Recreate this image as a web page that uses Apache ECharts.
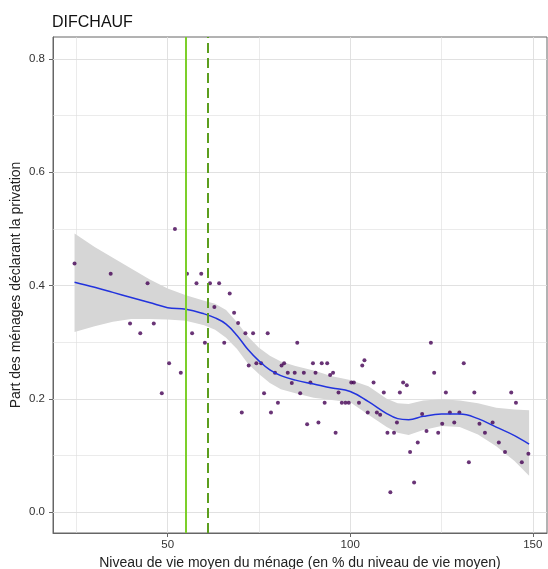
<!DOCTYPE html>
<html>
<head>
<meta charset="utf-8">
<script src="https://cdn.jsdelivr.net/npm/echarts@6/dist/echarts.min.js"></script>
<style>
  html, body { margin: 0; padding: 0; background: #fff; }
  #chart { width: 548px; height: 569px; }
</style>
</head>
<body>
<div id="chart"></div>
<script>
// points (niveau de vie, part declarant la privation)
const ptX = [24.5, 34.4, 44.5, 52.0, 55.3, 57.9, 39.7, 46.2, 42.5, 56.7, 50.4, 53.6, 48.4,
  59.2, 61.6, 64.1, 67.0, 62.8, 68.2, 69.3, 71.3, 73.4, 77.4, 60.2, 65.5, 85.5, 72.2, 74.3,
  75.6, 81.2, 81.9, 82.9, 84.8, 87.3, 79.4, 84.0, 86.3, 76.4, 80.2, 70.3, 78.3,
  89.8, 92.2, 93.7, 90.5, 94.5, 95.3, 89.1, 93.0, 96.8, 97.7, 98.7, 99.6, 100.3, 101.0,
  102.4, 103.3, 103.9, 106.4, 104.8, 107.3, 108.2, 109.2, 112.8, 113.6, 114.5, 115.5,
  88.2, 91.3, 96.0, 110.2, 112.0, 118.5, 116.4, 117.5, 111.0,
  122.1, 131.1, 123.0, 126.2, 134.0, 144.1, 145.4, 119.7, 127.3, 129.9, 120.9, 125.2,
  124.1, 128.5, 135.4, 136.9, 139.0, 140.7, 142.4, 132.5, 147.0, 148.8]
const ptY = [0.439, 0.421, 0.404, 0.500, 0.421, 0.404, 0.333, 0.333, 0.316, 0.316, 0.263, 0.246, 0.210,
  0.421, 0.404, 0.404, 0.386, 0.362, 0.352, 0.334, 0.316, 0.316, 0.316, 0.299, 0.299, 0.299, 0.259, 0.263,
  0.263, 0.259, 0.263, 0.246, 0.246, 0.246, 0.246, 0.228, 0.210, 0.210, 0.193, 0.176, 0.176,
  0.263, 0.263, 0.263, 0.246, 0.242, 0.246, 0.229, 0.193, 0.211, 0.193, 0.193, 0.193, 0.229, 0.229,
  0.193, 0.259, 0.268, 0.229, 0.176, 0.176, 0.172, 0.211, 0.158, 0.211, 0.229, 0.224,
  0.155, 0.158, 0.140, 0.140, 0.140, 0.123, 0.106, 0.052, 0.035,
  0.299, 0.263, 0.246, 0.211, 0.211, 0.211, 0.193, 0.173, 0.176, 0.176, 0.143, 0.156,
  0.140, 0.158, 0.156, 0.140, 0.158, 0.123, 0.106, 0.088, 0.088, 0.103]

// lissage + intervalle de confiance
const smX  = [24.5, 30, 35, 40, 45, 50, 55, 60, 63, 66, 69, 72, 75, 78, 81, 85, 90, 95, 100, 105, 110, 113, 116, 120, 125, 130, 135, 140, 145, 149]
const smY  = [0.406, 0.397, 0.388, 0.379, 0.370, 0.361, 0.358, 0.350, 0.343, 0.332, 0.312, 0.287, 0.267, 0.251, 0.241, 0.233, 0.226, 0.219, 0.213, 0.195, 0.174, 0.165, 0.163, 0.169, 0.173, 0.173, 0.165, 0.150, 0.135, 0.120]
const smHi = [0.492, 0.468, 0.449, 0.430, 0.411, 0.395, 0.383, 0.373, 0.368, 0.357, 0.335, 0.310, 0.290, 0.276, 0.266, 0.258, 0.250, 0.240, 0.233, 0.222, 0.200, 0.192, 0.191, 0.197, 0.199, 0.197, 0.192, 0.184, 0.181, 0.180]
const smLo = [0.318, 0.328, 0.336, 0.341, 0.341, 0.340, 0.338, 0.330, 0.322, 0.308, 0.288, 0.262, 0.244, 0.228, 0.217, 0.210, 0.202, 0.198, 0.194, 0.172, 0.150, 0.140, 0.136, 0.145, 0.152, 0.150, 0.137, 0.116, 0.090, 0.064]

// seuils verticaux
const seuilPlein = 55
const seuilTirets = 61

// ticks / grille
const xTicks = [50, 100, 150]
const xGrid = [25, 50, 75, 100, 125, 150]
const yTicks = [0, 0.2, 0.4, 0.6, 0.8]
const yGrid = [0, 0.1, 0.2, 0.3, 0.4, 0.5, 0.6, 0.7, 0.8]

const font = '"Liberation Sans", Arial, Helvetica, sans-serif'

const gridLines = [].concat(
  xGrid.map(v => ({ xAxis: v, lineStyle: { color: '#dedede', type: 'solid', width: v % 50 === 0 ? 0.9 : 0.6 } })),
  yGrid.map(v => ({ yAxis: v, lineStyle: { color: '#dedede', type: 'solid', width: Math.round(v * 10) % 2 === 0 ? 0.9 : 0.6 } }))
)

const option = {
  animation: false,
  title: {
    text: 'DIFCHAUF',
    left: 52,
    top: 15,
    padding: 0,
    textStyle: { fontFamily: font, fontSize: 16, fontWeight: 'normal', color: '#111' }
  },
  grid: {
    left: 53, right: 1, top: 37, bottom: 36,
    outerBoundsMode: 'none',
    containLabel: false,
    show: true, borderColor: '#666', borderWidth: 1, backgroundColor: '#fff'
  },
  xAxis: {
    type: 'value',
    min: 18.6,
    max: 153.9,
    name: 'Niveau de vie moyen du ménage (en % du niveau de vie moyen)',
    nameLocation: 'middle',
    nameGap: 20,
    nameTextStyle: { fontFamily: font, fontSize: 14, color: '#222' },
    axisLine: { show: true, onZero: false, lineStyle: { color: '#666' } },
    axisTick: { show: true, length: 4, customValues: xTicks, lineStyle: { color: '#666' } },
    axisLabel: { customValues: xTicks, fontFamily: font, fontSize: 11.5, color: '#333', margin: 6 },
    splitLine: { show: false }
  },
  yAxis: {
    type: 'value',
    min: -0.037,
    max: 0.839,
    name: 'Part des ménages déclarant la privation',
    nameLocation: 'middle',
    nameGap: 30,
    nameMoveOverlap: false,
    nameTextStyle: { fontFamily: font, fontSize: 14, color: '#222' },
    axisLine: { show: true, onZero: false, lineStyle: { color: '#666' } },
    axisTick: { show: true, length: 4, customValues: yTicks, lineStyle: { color: '#666' } },
    axisLabel: { customValues: yTicks, formatter: v => v.toFixed(1), fontFamily: font, fontSize: 11.5, color: '#333', margin: 8 },
    splitLine: { show: false }
  },
  series: [
    {
      type: 'line',
      data: [],
      z: 1,
      silent: true,
      markLine: { silent: true, z: 1, symbol: 'none', label: { show: false }, animation: false, data: gridLines }
    },
    {
      type: 'custom',
      z: 2,
      silent: true,
      data: [0],
      renderItem: (params, api) => {
        const pts = []
        for (let i = 0; i < smX.length; i++) pts.push(api.coord([smX[i], smHi[i]]))
        for (let i = smX.length - 1; i >= 0; i--) pts.push(api.coord([smX[i], smLo[i]]))
        return { type: 'polygon', shape: { points: pts }, style: { fill: '#d6d6d6' } }
      }
    },
    {
      type: 'scatter',
      z: 3,
      symbolSize: 4,
      itemStyle: { color: '#440154' },
      data: ptX.map((x, i) => [x, ptY[i]])
    },
    {
      type: 'line',
      z: 4,
      smooth: 0.4,
      symbol: 'none',
      lineStyle: { color: '#2233dd', width: 1.5 },
      data: smX.map((x, i) => [x, smY[i]])
    },
    {
      type: 'line',
      z: 5,
      data: [],
      markLine: {
        silent: true,
        symbol: 'none',
        label: { show: false },
        animation: false,
        data: [
          { xAxis: seuilPlein, lineStyle: { color: '#7ccf2a', width: 2, type: 'solid' } },
          { xAxis: seuilTirets, lineStyle: { color: '#5c9e1e', width: 2, type: [10, 5] } }
        ]
      }
    }
  ]
}

const myChart = echarts.init(document.getElementById('chart'), null, { renderer: 'canvas' })
myChart.setOption(option)
</script>
</body>
</html>
